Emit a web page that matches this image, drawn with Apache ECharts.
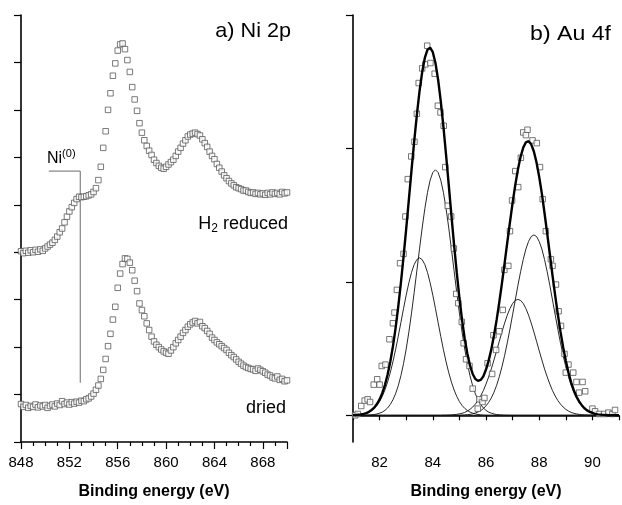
<!DOCTYPE html>
<html><head><meta charset="utf-8">
<script src="https://cdn.jsdelivr.net/npm/echarts@6/dist/echarts.min.js"></script>
<style>html,body{margin:0;padding:0;background:#fff}#c{width:622px;height:505px}</style>
</head><body><div id="c"></div>
<script>
// ---------- Panel a) Ni 2p ----------
const niEnergy = [
848.0,848.2,848.4,848.6,848.8,849.0,849.2,849.4,849.6,849.8,
850.0,850.2,850.4,850.6,850.8,851.0,851.2,851.4,851.6,851.8,
852.0,852.2,852.4,852.6,852.8,853.0,853.2,853.4,853.6,853.8,
854.0,854.2,854.4,854.6,854.8,855.0,855.2,855.4,855.6,855.8,
856.0,856.2,856.4,856.6,856.8,857.0,857.2,857.4,857.6,857.8,
858.0,858.2,858.4,858.6,858.8,859.0,859.2,859.4,859.6,859.8,
860.0,860.2,860.4,860.6,860.8,861.0,861.2,861.4,861.6,861.8,
862.0,862.2,862.4,862.6,862.8,863.0,863.2,863.4,863.6,863.8,
864.0,864.2,864.4,864.6,864.8,865.0,865.2,865.4,865.6,865.8,
866.0,866.2,866.4,866.6,866.8,867.0,867.2,867.4,867.6,867.8,
868.0,868.2,868.4,868.6,868.8,869.0,869.2,869.4,869.6,869.8,
870.0];
const niDried = [
0.80,0.74,0.78,0.72,0.76,0.74,0.79,0.73,0.77,0.75,
0.78,0.72,0.76,0.79,0.75,0.81,0.78,0.86,0.80,0.83,
0.79,0.84,0.81,0.85,0.83,0.87,0.86,0.90,0.92,0.96,
1.02,1.10,1.19,1.33,1.52,1.75,2.02,2.28,2.58,2.85,
3.25,3.55,3.75,3.87,3.86,3.78,3.62,3.40,3.18,2.92,
2.78,2.65,2.50,2.36,2.22,2.12,2.05,2.00,1.95,1.91,
1.88,1.86,1.93,2.00,2.08,2.15,2.22,2.30,2.36,2.43,
2.48,2.52,2.55,2.50,2.53,2.44,2.40,2.34,2.28,2.20,
2.15,2.10,2.06,2.02,1.98,1.94,1.88,1.83,1.79,1.74,
1.69,1.65,1.61,1.58,1.56,1.54,1.53,1.50,1.55,1.52,
1.49,1.46,1.42,1.40,1.36,1.34,1.38,1.31,1.33,1.28,
1.30];
const niReduced = [
4.02,3.98,4.03,3.99,4.04,4.00,4.05,4.01,4.06,4.03,
4.08,4.12,4.16,4.20,4.26,4.33,4.42,4.50,4.63,4.75,
4.86,4.95,5.04,5.12,5.17,5.16,5.17,5.18,5.20,5.22,
5.27,5.35,5.52,5.80,6.20,6.55,7.00,7.35,7.72,7.98,
8.25,8.38,8.40,8.28,8.05,7.80,7.48,7.22,6.98,6.72,
6.52,6.36,6.24,6.14,6.05,5.95,5.88,5.82,5.78,5.76,
5.80,5.85,5.90,5.95,6.03,6.12,6.20,6.29,6.36,6.44,
6.48,6.50,6.52,6.49,6.46,6.38,6.30,6.22,6.12,6.03,
5.96,5.86,5.78,5.70,5.62,5.56,5.50,5.45,5.41,5.37,
5.35,5.33,5.30,5.30,5.27,5.25,5.26,5.23,5.25,5.22,
5.24,5.21,5.25,5.22,5.26,5.23,5.25,5.22,5.27,5.24,
5.26];
const niMarkerX = [850.3, 852.9, 852.9];
const niMarkerY = [5.71, 5.71, 1.25];
const niTicks = [848, 852, 856, 860, 864, 868];

// ---------- Panel b) Au 4f ----------
const auExpX = [81.08,81.18,81.31,81.44,81.55,81.64,81.78,81.91,82.00,82.08,82.22,82.37,82.50,82.56,82.65,82.77,82.90,82.97,83.06,83.19,
83.31,83.40,83.47,83.60,83.72,83.79,83.91,84.07,84.19,84.29,84.41,84.47,84.56,84.69,84.79,84.88,84.96,85.09,85.16,85.25,
85.38,85.50,85.69,85.75,85.87,85.94,86.06,86.23,86.28,86.38,86.50,86.63,86.69,86.84,86.90,86.98,87.10,87.21,87.31,87.40,
87.50,87.56,87.75,87.91,88.03,88.13,88.25,88.44,88.50,88.63,88.73,88.82,88.95,89.00,89.10,89.28,89.40,89.50,89.63,89.73,
90.00,90.10,90.25,90.44,90.60,90.75,90.85];
const auExpY = [0.00,0.01,0.07,0.11,0.12,0.10,0.23,0.27,0.23,0.37,0.38,0.57,0.69,0.77,0.94,1.14,1.21,1.49,1.77,1.94,
2.05,2.26,2.49,2.60,2.63,2.77,2.64,2.56,2.32,2.27,2.17,1.86,1.57,1.49,1.25,0.91,0.84,0.70,0.54,0.42,
0.37,0.20,0.05,0.12,0.10,0.13,0.39,0.31,0.60,0.49,0.63,0.79,1.09,1.12,1.38,1.61,1.83,1.71,1.93,2.12,
2.10,2.14,2.06,2.04,1.86,1.62,1.38,1.17,1.12,0.98,0.78,0.67,0.46,0.32,0.38,0.32,0.25,0.17,0.25,0.18,
0.05,0.03,0.01,0.01,0.02,0.01,0.04];
const auEnergy = [
81.0,81.1,81.2,81.3,81.4,81.5,81.6,81.7,81.8,81.9,
82.0,82.1,82.2,82.3,82.4,82.5,82.6,82.7,82.8,82.9,
83.0,83.1,83.2,83.3,83.4,83.5,83.6,83.7,83.8,83.9,
84.0,84.1,84.2,84.3,84.4,84.5,84.6,84.7,84.8,84.9,
85.0,85.1,85.2,85.3,85.4,85.5,85.6,85.7,85.8,85.9,
86.0,86.1,86.2,86.3,86.4,86.5,86.6,86.7,86.8,86.9,
87.0,87.1,87.2,87.3,87.4,87.5,87.6,87.7,87.8,87.9,
88.0,88.1,88.2,88.3,88.4,88.5,88.6,88.7,88.8,88.9,
89.0,89.1,89.2,89.3,89.4,89.5,89.6,89.7,89.8,89.9,
90.0,90.1,90.2,90.3,90.4,90.5,90.6,90.7,90.8,90.9,
91.0];
const auCompA = [
0,0,0,0,0.001,0.001,0.002,0.004,0.006,0.010,
0.016,0.024,0.037,0.055,0.081,0.116,0.161,0.221,0.296,0.388,
0.497,0.624,0.766,0.921,1.083,1.247,1.404,1.548,1.669,1.762,
1.820,1.840,1.820,1.762,1.669,1.548,1.404,1.247,1.083,0.921,
0.766,0.624,0.497,0.388,0.296,0.221,0.161,0.116,0.081,0.055,
0.037,0.024,0.016,0.010,0.006,0.004,0.002,0.001,0.001,0,
0,0,0,0,0,0,0,0,0,0,
0,0,0,0,0,0,0,0,0,0,
0,0,0,0,0,0,0,0,0,0,
0,0,0,0,0,0,0,0,0,0,
0];
const auCompB = [
0.001,0.002,0.004,0.006,0.010,0.016,0.024,0.036,0.052,0.074,
0.103,0.142,0.190,0.249,0.319,0.400,0.491,0.591,0.695,0.800,
0.901,0.993,1.071,1.130,1.167,1.180,1.167,1.130,1.071,0.993,
0.901,0.800,0.695,0.591,0.491,0.400,0.319,0.249,0.190,0.142,
0.103,0.074,0.052,0.036,0.024,0.016,0.010,0.006,0.004,0.002,
0.001,0.001,0,0,0,0,0,0,0,0,
0,0,0,0,0,0,0,0,0,0,
0,0,0,0,0,0,0,0,0,0,
0,0,0,0,0,0,0,0,0,0,
0,0,0,0,0,0,0,0,0,0,
0];
const auCompC = [
0,0,0,0,0,0,0,0,0,0,
0,0,0,0,0,0,0,0,0,0,
0,0,0,0,0,0,0,0,0,0,
0,0,0,0,0,0,0,0,0,0.001,
0.001,0.002,0.003,0.005,0.007,0.011,0.017,0.025,0.035,0.050,
0.071,0.097,0.130,0.173,0.225,0.289,0.364,0.448,0.543,0.646,
0.754,0.864,0.973,1.076,1.168,1.246,1.303,1.340,1.352,1.340,
1.303,1.246,1.168,1.076,0.973,0.864,0.754,0.646,0.543,0.448,
0.364,0.289,0.225,0.173,0.130,0.097,0.071,0.050,0.035,0.025,
0.017,0.011,0.007,0.005,0.003,0.002,0.001,0.001,0,0,
0];
const auCompD = [
0,0,0,0,0,0,0,0,0,0,
0,0,0,0,0,0,0,0,0,0,
0,0,0,0,0,0,0,0,0,0,
0,0,0,0,0.001,0.001,0.002,0.003,0.005,0.007,
0.011,0.015,0.022,0.032,0.045,0.062,0.084,0.111,0.145,0.185,
0.234,0.288,0.348,0.415,0.484,0.555,0.625,0.691,0.751,0.800,
0.838,0.861,0.869,0.861,0.838,0.800,0.751,0.691,0.625,0.555,
0.484,0.415,0.348,0.288,0.234,0.185,0.145,0.111,0.084,0.062,
0.045,0.032,0.022,0.015,0.011,0.007,0.005,0.003,0.002,0.001,
0.001,0,0,0,0,0,0,0,0,0,
0];
const auEnvelope = [
0.001,0.002,0.004,0.006,0.011,0.017,0.026,0.040,0.058,0.084,
0.119,0.166,0.227,0.304,0.400,0.516,0.652,0.812,0.991,1.188,
1.398,1.617,1.837,2.051,2.250,2.427,2.571,2.678,2.740,2.755,
2.721,2.640,2.515,2.353,2.161,1.949,1.725,1.499,1.278,1.071,
0.881,0.715,0.574,0.461,0.372,0.310,0.272,0.258,0.265,0.292,
0.343,0.410,0.494,0.598,0.715,0.848,0.991,1.140,1.295,1.446,
1.592,1.725,1.842,1.937,2.006,2.046,2.054,2.031,1.977,1.895,
1.787,1.661,1.516,1.364,1.207,1.049,0.899,0.757,0.627,0.510,
0.409,0.321,0.247,0.188,0.141,0.104,0.076,0.053,0.037,0.026,
0.018,0.011,0.007,0.005,0.003,0.002,0.001,0.001,0,0,
0];
const auBaselineX = [81, 91];
const auBaselineY = [0, 0];
const auYTicks = [0, 1, 2, 3];

// ---------- build ----------
const FONT = '"Liberation Sans", Arial, Helvetica, sans-serif';
const pairs = (xs, ys) => xs.map((x, i) => [x, ys[i]]);
const axisLineStyle = { color: '#000', width: 1.6 };
const tickStyle = { color: '#000', width: 1.2 };
const nameStyle = { fontWeight: 'bold', fontSize: 16, fontFamily: FONT, color: '#000' };
const labelBase = { color: '#000', fontSize: 15, fontFamily: FONT, margin: 13 };

const thin = (name, ys) => ({
  name, type: 'line', xAxisIndex: 1, yAxisIndex: 1, data: pairs(auEnergy, ys),
  showSymbol: false, symbol: 'none', lineStyle: { color: '#111', width: 0.9 }, z: 3, silent: true
});

const chart = echarts.init(document.getElementById('c'), null, { renderer: 'canvas' });
chart.setOption({
  animation: false,
  backgroundColor: '#fff',
  grid: [
    { left: 21, top: 15, width: 266, height: 432 },
    { left: 353, top: 15, width: 267, height: 432 }
  ],
  xAxis: [
    {
      gridIndex: 0, type: 'value', min: 848, max: 870, interval: 4,
      axisLine: { show: true, lineStyle: axisLineStyle },
      axisTick: { show: true, inside: false, length: 7, lineStyle: tickStyle },
      minorTick: { show: true, splitNumber: 4, length: 4, lineStyle: tickStyle },
      splitLine: { show: false }, minorSplitLine: { show: false },
      axisLabel: Object.assign({}, labelBase, {
        formatter: v => (niTicks.indexOf(v) >= 0 ? String(v) : '')
      }),
      name: 'Binding energy (eV)', nameLocation: 'middle', nameGap: 42, nameTextStyle: nameStyle
    },
    {
      gridIndex: 1, type: 'value', min: 81, max: 91, interval: 1,
      axisLine: { show: true, lineStyle: axisLineStyle },
      axisTick: { show: true, inside: false, length: 5, lineStyle: tickStyle },
      splitLine: { show: false },
      axisLabel: Object.assign({}, labelBase, {
        formatter: v => (v % 2 === 0 ? String(v) : '')
      }),
      name: 'Binding energy (eV)', nameLocation: 'middle', nameGap: 42, nameTextStyle: nameStyle
    }
  ],
  yAxis: [
    {
      gridIndex: 0, type: 'value', min: 0, max: 9, interval: 1,
      axisLine: { show: true, lineStyle: axisLineStyle },
      axisTick: { show: true, inside: false, length: 7, lineStyle: tickStyle },
      axisLabel: { show: false }, splitLine: { show: false }
    },
    {
      gridIndex: 1, type: 'value', min: -0.2, max: 3,
      axisLine: { show: true, lineStyle: axisLineStyle },
      axisTick: { show: true, inside: false, length: 7, lineStyle: tickStyle, customValues: auYTicks },
      axisLabel: { show: false }, splitLine: { show: false }
    }
  ],
  series: [
    {
      name: 'Ni(0) marker', type: 'line', xAxisIndex: 0, yAxisIndex: 0,
      data: pairs(niMarkerX, niMarkerY), showSymbol: false, symbol: 'none',
      lineStyle: { color: '#6a6a6a', width: 1 }, z: 1, silent: true
    },
    {
      name: 'dried', type: 'scatter', xAxisIndex: 0, yAxisIndex: 0,
      data: pairs(niEnergy, niDried), symbol: 'rect', symbolSize: 5.5,
      itemStyle: { color: '#fff', borderColor: '#5a5a5a', borderWidth: 1 }, z: 2, silent: true
    },
    {
      name: 'H2 reduced', type: 'scatter', xAxisIndex: 0, yAxisIndex: 0,
      data: pairs(niEnergy, niReduced), symbol: 'rect', symbolSize: 5.5,
      itemStyle: { color: '#fff', borderColor: '#5a5a5a', borderWidth: 1 }, z: 2, silent: true
    },
    {
      name: 'baseline', type: 'line', xAxisIndex: 1, yAxisIndex: 1,
      data: pairs(auBaselineX, auBaselineY), showSymbol: false, symbol: 'none',
      lineStyle: { color: '#111', width: 0.9 }, z: 2, silent: true
    },
    thin('Au 4f7/2 a', auCompA),
    thin('Au 4f7/2 b', auCompB),
    thin('Au 4f5/2 a', auCompC),
    thin('Au 4f5/2 b', auCompD),
    {
      name: 'Au 4f experimental', type: 'scatter', xAxisIndex: 1, yAxisIndex: 1,
      data: pairs(auExpX, auExpY), symbol: 'rect', symbolSize: 5.5,
      itemStyle: { color: '#fff', borderColor: '#555', borderWidth: 1 }, z: 4, silent: true
    },
    {
      name: 'Au 4f envelope', type: 'line', xAxisIndex: 1, yAxisIndex: 1,
      data: pairs(auEnergy, auEnvelope), showSymbol: false, symbol: 'none',
      lineStyle: { color: '#000', width: 2.4 }, z: 5, silent: true
    }
  ],
  graphic: [
    { type: 'text', x: 291, y: 31, scaleX: 1.03, style: { text: 'a) Ni 2p', fill: '#000', fontSize: 21, fontFamily: FONT, align: 'right', verticalAlign: 'middle' } },
    { type: 'text', x: 611, y: 34, scaleX: 1.1, style: { text: 'b) Au 4f', fill: '#000', fontSize: 21, fontFamily: FONT, align: 'right', verticalAlign: 'middle' } },
    { type: 'text', x: 288, y: 224, style: {
        text: '{n|H}{s|2}{n| reduced}', fill: '#000', fontFamily: FONT, align: 'right', verticalAlign: 'middle',
        rich: { n: { fontSize: 18, lineHeight: 22, fontFamily: FONT, fill: '#000' },
                s: { fontSize: 12, lineHeight: 8, verticalAlign: 'bottom', fontFamily: FONT, fill: '#000' } } } },
    { type: 'text', x: 286, y: 408, style: { text: 'dried', fill: '#000', fontSize: 18, fontFamily: FONT, align: 'right', verticalAlign: 'middle' } },
    { type: 'text', x: 47, y: 159, style: {
        text: '{n|Ni}{s|(0)}', fill: '#000', fontFamily: FONT, align: 'left', verticalAlign: 'middle',
        rich: { n: { fontSize: 16, lineHeight: 22, fontFamily: FONT, fill: '#000' },
                s: { fontSize: 11, lineHeight: 10, verticalAlign: 'top', fontFamily: FONT, fill: '#000' } } } }
  ]
});
</script>
</body></html>
